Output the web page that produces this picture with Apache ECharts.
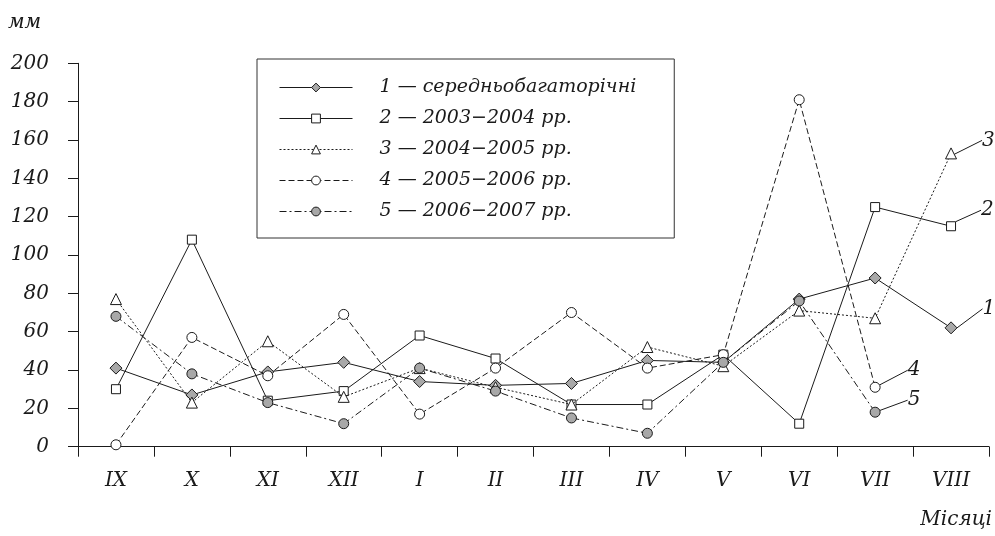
<!DOCTYPE html>
<html><head><meta charset="utf-8">
<script src="https://cdn.jsdelivr.net/npm/echarts@6/dist/echarts.min.js"></script>
<style>html,body{margin:0;padding:0;background:#fff}#c{width:995px;height:536px}</style>
</head><body><div id="c"></div>
<script>
const months = ['IX','X','XI','XII','I','II','III','IV','V','VI','VII','VIII'];
const yTicks = [0, 200, 20];
const names = ['1 — середньобагаторічні','2 — 2003−2004 рр.','3 — 2004−2005 рр.','4 — 2005−2006 рр.','5 — 2006−2007 рр.'];
const endLabels = ['1','2','3','4','5'];
const s1 = [41, 27, 39, 44, 34, 32, 33, 45, 44, 77, 88, 62];
const s2 = [30, 108, 24, 29, 58, 46, 22, 22, 48, 12, 125, 115];
const s3 = [77, 23, 55, 26, 41, 31, 22, 52, 42, 71, 67, 153];
const s4 = [1, 57, 37, 69, 17, 41, 70, 41, 48, 181, 31, null];
const s5 = [68, 38, 23, 12, 41, 29, 15, 7, 44, 76, 18, null];

const FONT = 'DejaVu Serif';
const INK = '#1a1a1a';
const styles = [
  {symbol:'diamond', size:12, fill:'#a8a8a8', type:'solid', dx:20, dy:-19},
  {symbol:'rect', size:9, fill:'#ffffff', type:'solid', dx:20, dy:-16},
  {symbol:'triangle', size:11, fill:'#ffffff', type:[2,2], dx:20, dy:-13},
  {symbol:'circle', size:10, fill:'#ffffff', type:[6,3], dx:22, dy:-17},
  {symbol:'circle', size:10, fill:'#a8a8a8', type:[7,3,2,3], dx:22, dy:-12}
];
const all = [s1, s2, s3, s4, s5];

function buildData(arr, idx) {
  let last = -1;
  arr.forEach((v, i) => { if (v !== null) last = i; });
  return arr.map((v, i) => i === last ? {
    value: v,
    label: {show: true, formatter: endLabels[idx]},
    labelLine: {show: true, lineStyle: {color: INK, width: 1}}
  } : v);
}

const series = all.map((arr, k) => ({
  name: names[k],
  type: 'line',
  data: buildData(arr, k),
  symbol: styles[k].symbol,
  symbolSize: styles[k].size,
  showAllSymbol: true,
  connectNulls: false,
  lineStyle: {color: INK, width: 1, type: styles[k].type},
  itemStyle: {color: styles[k].fill, borderColor: INK, borderWidth: 1},
  label: {show: false, position: 'right', distance: 5, fontFamily: FONT, fontStyle: 'italic', fontSize: 20, color: INK},
  labelLine: {show: true, lineStyle: {color: INK, width: 1}},
  labelLayout: {dx: styles[k].dx, dy: styles[k].dy},
  emphasis: {disabled: true},
  animation: false,
  z: 2 + k
}));

const chart = echarts.init(document.getElementById('c'), null, {renderer: 'canvas'});
chart.setOption({
  animation: false,
  grid: {left: 78, right: 6, top: 63.3, bottom: 89.3},
  legend: {
    left: 257, top: 59, orient: 'vertical',
    padding: [19, 38, 17, 22],
    itemWidth: 73, itemHeight: 11, itemGap: 12,
    borderColor: '#333', borderWidth: 1,
    itemStyle: {borderWidth: 1, borderColor: INK},
    lineStyle: {width: 1},
    textStyle: {fontFamily: FONT, fontStyle: 'italic', fontSize: 19, color: INK, width: 244, overflow: 'none', padding: [0,0,0,22]},
    data: names
  },
  xAxis: {
    type: 'category', data: months, boundaryGap: true,
    axisLine: {lineStyle: {color: INK, width: 1}},
    axisTick: {show: true, length: 10, inside: false, lineStyle: {color: INK}},
    axisLabel: {margin: 24, fontFamily: FONT, fontStyle: 'italic', fontSize: 20, color: INK}
  },
  yAxis: {
    type: 'value', min: yTicks[0], max: yTicks[1], interval: yTicks[2],
    splitLine: {show: false},
    axisLine: {show: true, lineStyle: {color: INK, width: 1}},
    axisTick: {show: true, length: 10, lineStyle: {color: INK}},
    axisLabel: {margin: 29, fontFamily: FONT, fontStyle: 'italic', fontSize: 20, color: INK}
  },
  graphic: [
    {type: 'text', left: 8, top: 13, style: {text: 'мм', font: 'italic 20px "DejaVu Serif"', fill: INK}},
    {type: 'text', right: 3, top: 510, style: {text: 'Місяці', font: 'italic 20px "DejaVu Serif"', fill: INK}}
  ],
  series: series
});
</script></body></html>
